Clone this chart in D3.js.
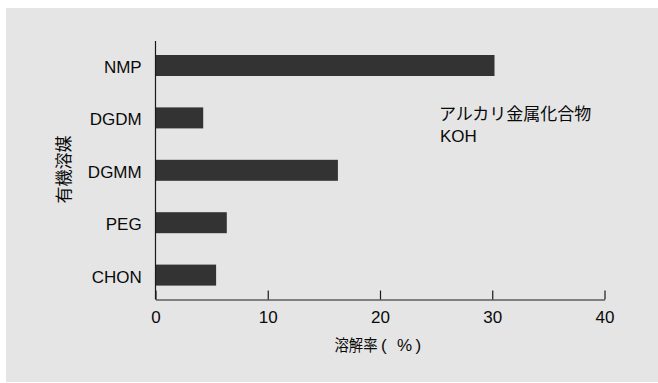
<!DOCTYPE html>
<html>
<head>
<meta charset="utf-8">
<script src="https://cdn.jsdelivr.net/npm/d3@7/dist/d3.min.js"></script>
<style>
  html, body { margin: 0; padding: 0; background: #ffffff; }
  svg { display: block; }
  .latin { font-family: "Liberation Sans", Arial, "Noto Sans CJK JP", sans-serif; }
  .cjk { font-family: "Noto Sans CJK JP", "Noto Sans CJK SC", sans-serif; }
</style>
</head>
<body>
<svg id="chart" width="658" height="383"></svg>
<script>
// Solvents (top to bottom) and their dissolution rate (%)
const solvents = ["NMP", "DGDM", "DGMM", "PEG", "CHON"];
const rates = [30.2, 4.25, 16.25, 6.35, 5.4];
const xTicks = [0, 10, 20, 30, 40];
const noteLines = ["アルカリ金属化合物", "KOH"];
const xTitleParts = ["溶解率", "(", "%", ")"];
const yTitle = "有機溶媒";

const W = 658, H = 383;
const svg = d3.select("#chart");

// panel background
svg.append("rect")
  .attr("x", 6).attr("y", 8)
  .attr("width", W - 6).attr("height", H - 9)
  .attr("fill", "#e5e5e5");

const x = d3.scaleLinear().domain([0, 40]).range([155.5, 604.5]);
const y = d3.scaleBand().domain(solvents).range([39.3, 301.3]).paddingInner(0.6).paddingOuter(0.3);

const axisY = 299.5;
const ink = "#0a0a0a";

// bars
svg.append("g").selectAll("rect")
  .data(solvents.map((s, i) => ({ s, v: rates[i] })))
  .join("rect")
  .attr("x", x(0))
  .attr("y", d => y(d.s) + y.bandwidth() / 2 - 10.5)
  .attr("width", d => x(d.v) - x(0))
  .attr("height", 21)
  .attr("fill", "#333333");

// x axis with ticks pointing up into the plot
const gx = svg.append("g")
  .attr("transform", `translate(0,${axisY})`)
  .call(d3.axisBottom(x).tickValues(xTicks).tickSizeInner(-9).tickSizeOuter(0).tickPadding(11));
gx.select(".domain").attr("stroke", "#1a1a1a").attr("stroke-width", 1.2);
gx.selectAll(".tick line").attr("stroke", "#1a1a1a").attr("stroke-width", 1.2);
gx.selectAll(".tick text")
  .attr("class", "latin")
  .attr("font-size", 17)
  .attr("fill", ink);

// y axis line (no ticks), labels at the left
svg.append("line")
  .attr("x1", x(0)).attr("x2", x(0))
  .attr("y1", 41).attr("y2", axisY)
  .attr("stroke", "#1a1a1a").attr("stroke-width", 1.2);

svg.append("g").selectAll("text")
  .data(solvents)
  .join("text")
  .attr("class", "latin")
  .attr("x", 141.7)
  .attr("y", d => y(d) + y.bandwidth() / 2 + 7.5)
  .attr("text-anchor", "end")
  .attr("font-size", 17)
  .attr("fill", ink)
  .text(d => d);

// annotation
svg.append("text")
  .attr("class", "cjk")
  .attr("x", 439).attr("y", 120)
  .attr("font-size", 17)
  .attr("fill", ink)
  .text(noteLines[0]);
svg.append("text")
  .attr("class", "latin")
  .attr("x", 440).attr("y", 141.5)
  .attr("font-size", 17)
  .attr("fill", ink)
  .text(noteLines[1]);

// x axis title: slightly condensed kanji followed by a spaced-out "( % )"
const xt = svg.append("text")
  .attr("class", "latin")
  .attr("y", 350.5)
  .attr("font-size", 17)
  .attr("fill", ink);
xt.append("tspan")
  .attr("class", "cjk")
  .attr("x", 334.5)
  .attr("font-size", 16)
  .attr("textLength", 43)
  .attr("lengthAdjust", "spacingAndGlyphs")
  .text(xTitleParts[0]);
xt.append("tspan").attr("x", 381).text(xTitleParts[1]);
xt.append("tspan").attr("x", 397).text(xTitleParts[2]);
xt.append("tspan").attr("x", 415.5).text(xTitleParts[3]);

svg.append("text")
  .attr("class", "cjk")
  .attr("transform", "translate(70,169.5) rotate(-90)")
  .attr("text-anchor", "middle")
  .attr("font-size", 17)
  .attr("fill", ink)
  .text(yTitle);
</script>
</body>
</html>
